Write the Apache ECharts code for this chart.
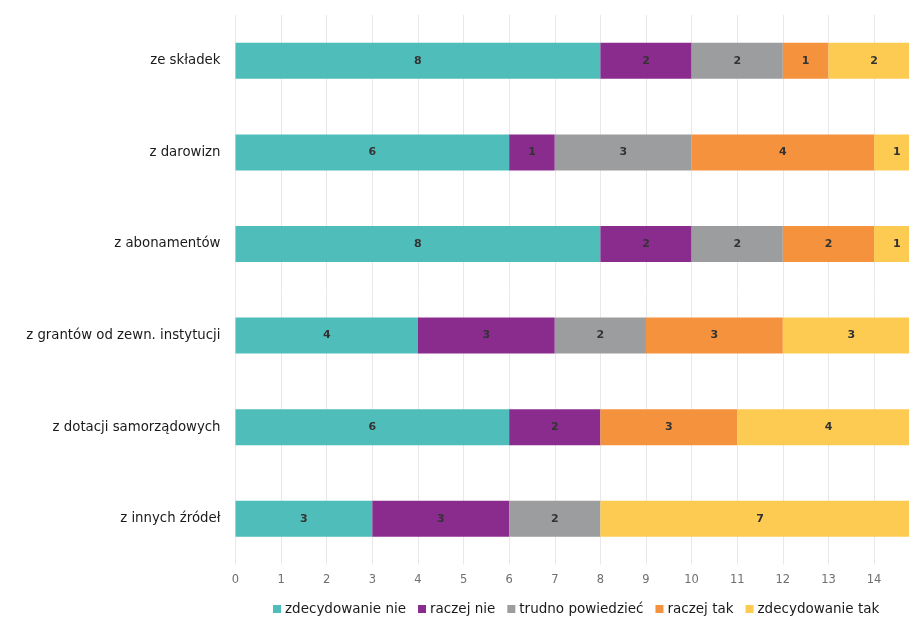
<!DOCTYPE html>
<html>
<head>
<meta charset="utf-8">
<script src="https://cdn.jsdelivr.net/npm/echarts@6/dist/echarts.min.js"></script>
<style>
  html, body { margin: 0; padding: 0; background: #fff; overflow: hidden; width: 909px; height: 618px; }
  #chart { width: 930px; height: 618px; }
</style>
</head>
<body>
<div id="chart"></div>
<script>
// Sources of funding, answers counted per category
const categories = [
  'ze składek',
  'z darowizn',
  'z abonamentów',
  'z grantów od zewn. instytucji',
  'z dotacji samorządowych',
  'z innych źródeł'
];
const seriesNames = ['zdecydowanie nie', 'raczej nie', 'trudno powiedzieć', 'raczej tak', 'zdecydowanie tak'];
const zdecydowanieNie = [8, 6, 8, 4, 6, 3];
const raczejNie       = [2, 1, 2, 3, 2, 3];
const trudnoPowiedziec = [2, 3, 2, 2, null, 2];
const raczejTak       = [1, 4, 2, 3, 3, null];
const zdecydowanieTak = [2, 1, 1, 3, 4, 7];
const xTicks = [0, 1, 2, 3, 4, 5, 6, 7, 8, 9, 10, 11, 12, 13, 14, 15];

const colors = ['#4fbdba', '#8a2c8e', '#9b9d9e', '#f4923e', '#fdcb52'];
const values = [zdecydowanieNie, raczejNie, trudnoPowiedziec, raczejTak, zdecydowanieTak];
const font = '"DejaVu Sans", sans-serif';

const chart = echarts.init(document.getElementById('chart'), null, { renderer: 'canvas' });
chart.setOption({
  animation: false,
  color: colors,
  grid: { left: 235.5, right: 10, top: 15, bottom: 53.5, containLabel: false },
  legend: {
    data: seriesNames,
    left: 268,
    top: 597,
    itemWidth: 8,
    itemHeight: 8,
    itemGap: 12,
    icon: 'rect',
    textStyle: { fontFamily: font, fontSize: 13.5, color: '#1a1a1a', padding: [0, 0, 0, -1] }
  },
  xAxis: {
    type: 'value',
    min: xTicks[0],
    max: xTicks[xTicks.length - 1],
    interval: 1,
    axisLine: { show: false },
    axisTick: { show: false },
    axisLabel: { fontFamily: font, fontSize: 11.5, color: '#6f6f6f', margin: 10 },
    splitLine: { show: true, lineStyle: { color: '#e8e8ec', width: 1 } }
  },
  yAxis: {
    type: 'category',
    data: categories,
    inverse: true,
    axisLine: { show: false },
    axisTick: { show: false },
    axisLabel: { fontFamily: font, fontSize: 13.3, color: '#1a1a1a', margin: 15 }
  },
  series: seriesNames.map((name, i) => ({
    name,
    type: 'bar',
    stack: 'total',
    barWidth: 36,
    data: values[i],
    label: {
      show: true,
      position: 'inside',
      fontFamily: font,
      fontSize: 11,
      fontWeight: 'bold',
      color: '#333'
    },
    itemStyle: { color: colors[i] }
  }))
});
</script>
</body>
</html>
